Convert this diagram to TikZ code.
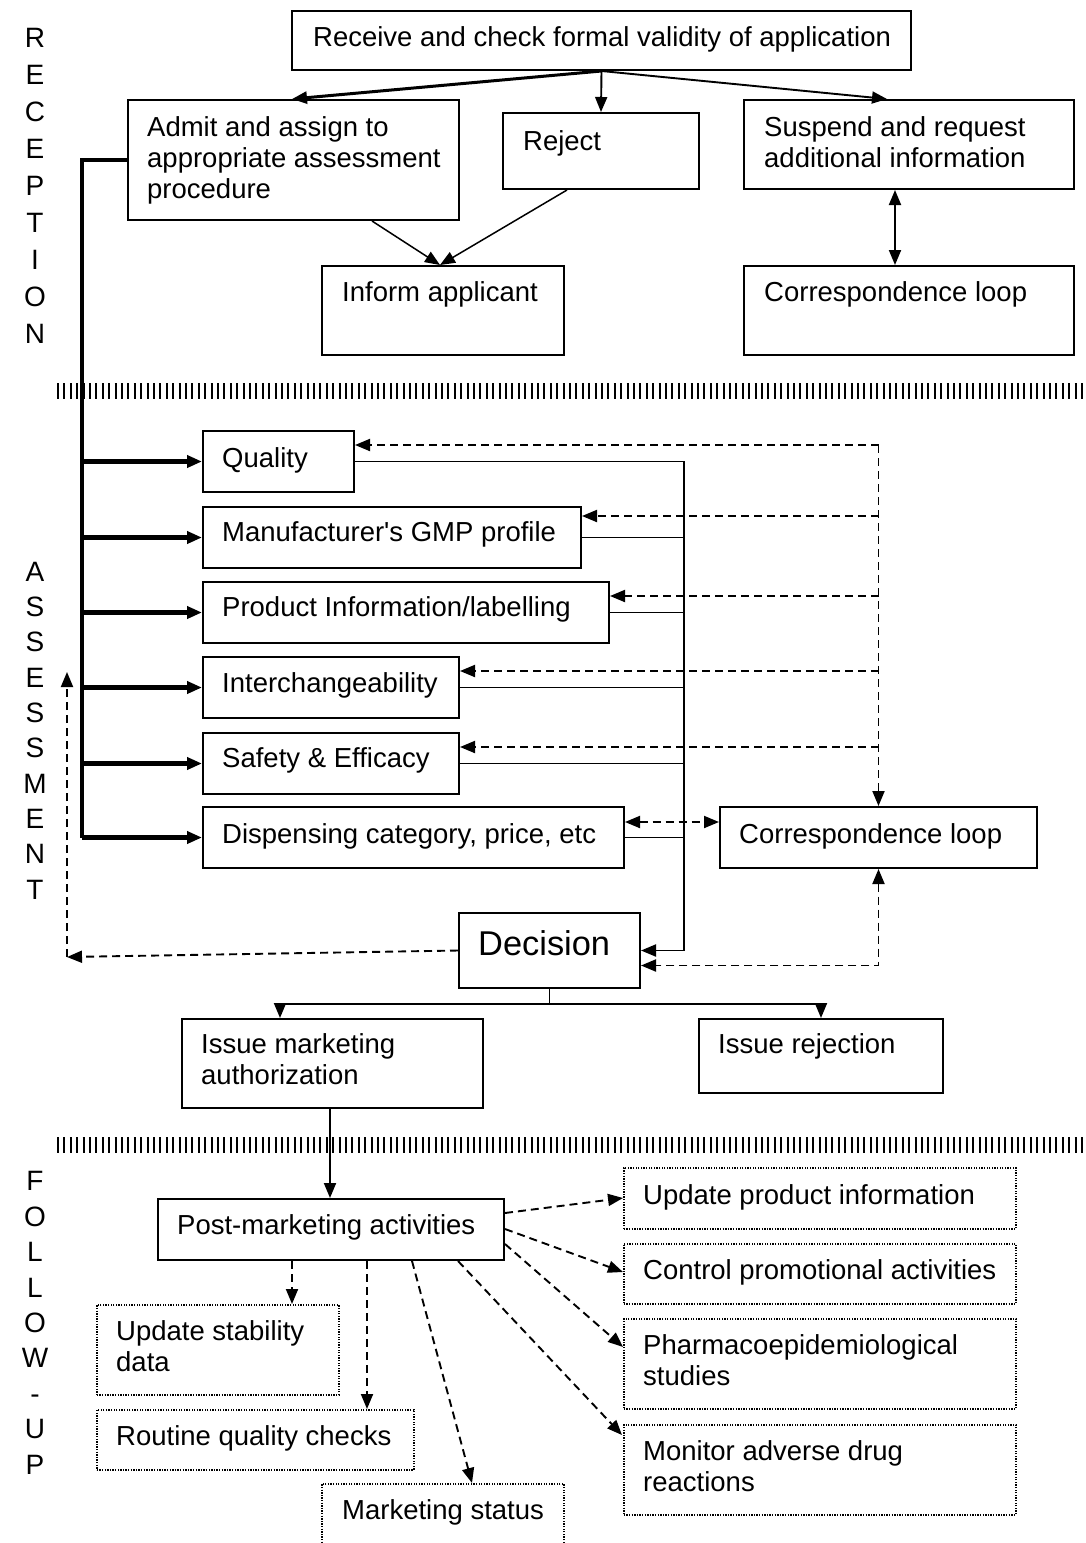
\documentclass[tikz,border=0pt]{standalone}
\usepackage{fontspec}
\setmainfont{Liberation Sans}[Ligatures=TeXOff]
\usetikzlibrary{arrows.meta,calc}
\begin{document}
\begin{tikzpicture}[x=1pt,y=-1pt,
  box/.style={draw, line width=2pt, inner sep=0pt, anchor=north west},
  dbox/.style={draw, line width=1.6pt, dash pattern=on 1.3pt off 1.3pt, inner sep=0pt, anchor=north west},
  lbl/.style={anchor=base west, align=left, inner sep=0pt, font=\fontsize{27.5}{31}\selectfont},
  column/.style={anchor=base, align=center, inner sep=0pt},
  tip/.style={-{Triangle[length=15pt,width=12pt]}},
  tips/.style={{Triangle[length=15pt,width=12pt]}-{Triangle[length=15pt,width=12pt]}},
  link/.style={line width=1.9pt},
  dlink/.style={line width=1.9pt, dash pattern=on 8pt off 5pt},
  heavy/.style={line width=4.5pt},
  separator/.style={line width=16pt, dash pattern=on 2pt off 4.4pt},
]
\useasboundingbox (0,0) rectangle (1086,1543);
\clip (0,0) rectangle (1086,1543);

% ---------- section captions (anchored at the baseline of the last letter) ----------
\node[column, font=\fontsize{28}{37}\selectfont] (capR) at (35,343)
  {R\\E\\C\\E\\P\\T\\I\\O\\N};
\node[column, font=\fontsize{28}{35.3}\selectfont] (capA) at (35,899)
  {A\\S\\S\\E\\S\\S\\M\\E\\N\\T};
\node[column, font=\fontsize{28}{35.4}\selectfont] (capF) at (35,1474)
  {F\\O\\L\\L\\O\\W\\-\\U\\P};

% ---------- separators ----------
\coordinate (sepL1) at (57,391);
\coordinate (sepR1) at (1090,391);
\coordinate (sepL2) at (57,1145);
\coordinate (sepR2) at (1090,1145);
\draw[separator] (sepL1) -- (sepR1);
\draw[separator] (sepL2) -- (sepR2);

% ---------- reception ----------
\node[box, minimum width=619pt, minimum height=59pt] (recv) at (291,10) {};
\node[box, minimum width=331pt, minimum height=120pt] (admit) at (127,99) {};
\node[box, minimum width=196pt, minimum height=76pt] (reject) at (502,112) {};
\node[box, minimum width=330pt, minimum height=89pt] (susp) at (743,99) {};
\node[box, minimum width=242pt, minimum height=89pt] (inform) at (321,265) {};
\node[box, minimum width=330pt, minimum height=89pt] (corrA) at (743,265) {};

\node[lbl] (t-recv) at (313,46) {Receive and check formal validity of application};
\node[lbl] (t-admit) at (147,198) {Admit and assign to\\appropriate assessment\\procedure};
\node[lbl] (t-reject) at (523,150) {Reject};
\node[lbl] (t-susp) at (764,167) {Suspend and request\\additional information};
\node[lbl] (t-inform) at (342,301) {Inform applicant};
\node[lbl] (t-corrA) at (764,301) {Correspondence loop};

\draw[tip, line width=3pt] (recv.south) -- ($(admit.north west)+(165,0)$);
\draw[tip, link] (recv.south) -- (reject.north);
\draw[tip, link] (recv.south) -- ($(susp.north west)+(144,0)$);
\coordinate (informIn) at ($(inform.north west)+(119,0)$);
\draw[tip, line width=1.5pt] ($(admit.south west)+(245,0)$) -- (informIn);
\draw[tip, line width=1.5pt] ($(reject.south west)+(65,0)$) -- (informIn);
\draw[tips, link] ($(susp.south west)+(152,0)$) -- ($(corrA.north west)+(152,0)$);

% ---------- assessment ----------
\node[box, minimum width=151pt, minimum height=61pt] (qual) at (202,430) {};
\node[box, minimum width=378pt, minimum height=61pt] (gmp) at (202,506) {};
\node[box, minimum width=406pt, minimum height=61pt] (prod) at (202,581) {};
\node[box, minimum width=256pt, minimum height=61pt] (inter) at (202,656) {};
\node[box, minimum width=256pt, minimum height=61pt] (safe) at (202,732) {};
\node[box, minimum width=421pt, minimum height=61pt] (disp) at (202,806) {};
\node[box, minimum width=317pt, minimum height=61pt] (corrB) at (719,806) {};
\node[box, minimum width=181pt, minimum height=75pt] (dec) at (458,912) {};
\node[box, minimum width=301pt, minimum height=89pt] (issue) at (181,1018) {};
\node[box, minimum width=244pt, minimum height=74pt] (rej) at (698,1018) {};

\node[lbl] (t-qual) at (222,467) {Quality};
\node[lbl] (t-gmp) at (222,541) {Manufacturer's GMP profile};
\node[lbl] (t-prod) at (222,616) {Product Information/labelling};
\node[lbl] (t-inter) at (222,692) {Interchangeability};
\node[lbl] (t-safe) at (222,767) {Safety \& Efficacy};
\node[lbl] (t-disp) at (222,843) {Dispensing category, price, etc};
\node[lbl] (t-corrB) at (739,843) {Correspondence loop};
\node[lbl, font=\fontsize{34.4}{40}\selectfont] (t-dec) at (478,955) {Decision};
\node[lbl] (t-issue) at (201,1084) {Issue marketing\\authorization};
\node[lbl] (t-rej) at (718,1053) {Issue rejection};

% thick distribution spine
\coordinate (spine) at (82,0);
\draw[heavy] (admit.west) -| (disp.west -| spine);
\foreach \b in {qual,gmp,prod,inter,safe,disp}
  \draw[heavy, tip] (\b.west -| spine) -- (\b.west);

% solid collector to the decision
\coordinate (bus) at (684,0);
\draw[link, tip] (qual.east) -| (dec.east -| bus) -- (dec.east);
\foreach \b in {gmp,prod,inter,safe,disp}
  \draw[link] (\b.east) -- (\b.east -| bus);

% dashed correspondence links
\coordinate (dbus) at (corrB.north);
\coordinate (q1) at ($(qual.north east)+(0,15)$);
\coordinate (g1) at ($(gmp.north east)+(0,10)$);
\coordinate (p1) at ($(prod.north east)+(0,15)$);
\coordinate (i1) at ($(inter.north east)+(0,15)$);
\coordinate (s1) at ($(safe.north east)+(0,15)$);
\coordinate (d1) at ($(disp.north east)+(0,16)$);
\draw[dlink, tip] (q1 -| dbus) -- (dbus);
\foreach \c in {q1,g1,p1,i1,s1}
  \draw[dlink, tip] (\c -| dbus) -- (\c);
\draw[dlink, tips] (d1) -- (d1 -| corrB.west);
\draw[dlink, tips] (corrB.south) |- ($(dec.east)+(0,15)$);

% dashed return from the decision
\coordinate (back) at (67,957);
\coordinate (backUp) at (67,672);
\draw[dlink, tip] (dec.west) -- (back);
\draw[dlink, tip] (back) -- (backUp);

% decision outcomes
\coordinate (split) at ($(dec.south)+(0,15)$);
\draw[link] (dec.south) -- (split);
\draw[link, tip] (split) -| ($(issue.north west)+(99,0)$);
\draw[link, tip] (split) -| (rej.north);

% ---------- follow-up ----------
\node[box, minimum width=346pt, minimum height=61pt] (post) at (157,1198) {};
\node[dbox, minimum width=242pt, minimum height=90pt] (stab) at (96,1304) {};
\node[dbox, minimum width=317pt, minimum height=60pt] (rout) at (96,1409) {};
\node[dbox, minimum width=242pt, minimum height=90pt] (mstat) at (321,1483) {};
\node[dbox, minimum width=392pt, minimum height=61pt] (upd) at (623,1167) {};
\node[dbox, minimum width=392pt, minimum height=60pt] (ctrl) at (623,1243) {};
\node[dbox, minimum width=392pt, minimum height=90pt] (pharm) at (623,1318) {};
\node[dbox, minimum width=392pt, minimum height=90pt] (mon) at (623,1424) {};

\node[lbl] (t-post) at (177,1234) {Post-marketing activities};
\node[lbl] (t-stab) at (116,1371) {Update stability\\data};
\node[lbl] (t-rout) at (116,1445) {Routine quality checks};
\node[lbl] (t-mstat) at (342,1519) {Marketing status};
\node[lbl] (t-upd) at (643,1204) {Update product information};
\node[lbl] (t-ctrl) at (643,1279) {Control promotional activities};
\node[lbl] (t-pharm) at (643,1385) {Pharmacoepidemiological\\studies};
\node[lbl] (t-mon) at (643,1491) {Monitor adverse drug\\reactions};

\draw[link, tip] ($(issue.south west)+(149,0)$) -- ($(post.north west)+(173,0)$);

\draw[dlink, tip] ($(post.south west)+(135,0)$) -- ($(stab.north west)+(196,0)$);
\draw[dlink, tip] ($(post.south west)+(210,0)$) -- ($(rout.north west)+(271,0)$);
\draw[dlink, tip] ($(post.south west)+(255,0)$) -- ($(mstat.north west)+(151,0)$);
\draw[dlink, tip] ($(post.south west)+(301,0)$) -- ($(mon.north west)+(-1,11)$);
\draw[dlink, tip] ($(post.north east)+(0,46)$) -- ($(pharm.north west)+(0,29)$);
\draw[dlink, tip] ($(post.north east)+(0,31)$) -- ($(ctrl.north west)+(0,29)$);
\draw[dlink, tip] ($(post.north east)+(0,15)$) -- ($(upd.north west)+(0,31)$);
\end{tikzpicture}
\end{document}
